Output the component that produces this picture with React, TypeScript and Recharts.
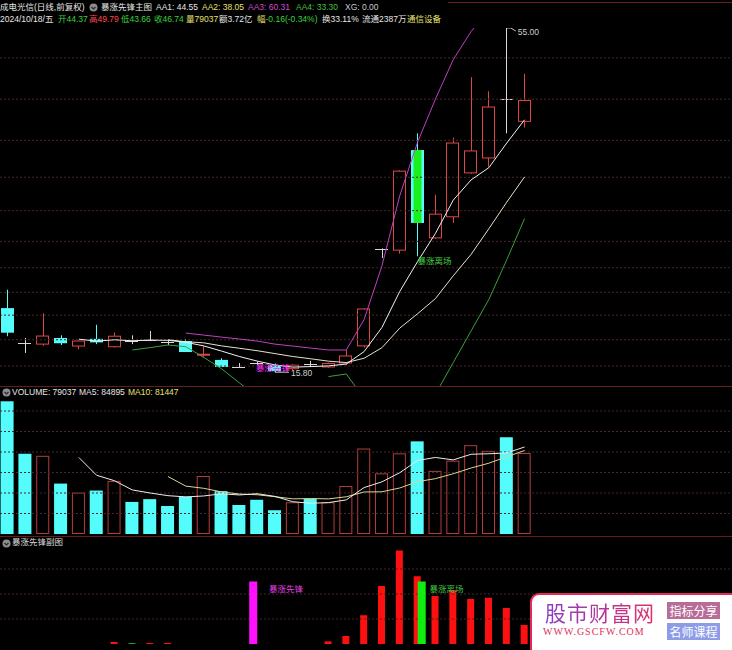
import React from 'react';
import { ComposedChart, Bar, Line, XAxis, YAxis, ReferenceLine, ReferenceDot } from 'recharts';

// 成电光信 daily candles, 30 sessions up to 2024/10/18
const openP = [23.1, 19.12, 19.0, 19.7, 18.78, 19.6, 18.7, 19.35, 19.45, 19.2, 19.35, 17.8, 17.2, 16.4, 16.8, 16.6, 16.2, 16.7, 16.4, 16.85, 18.8, 29.85, 29.7, 41.1, 31.1, 33.5, 38.5, 40.2, 46.9, 44.37];
const highP = [25.2, 19.7, 22.5, 20.0, 19.4, 21.2, 20.3, 20.0, 20.5, 19.4, 19.6, 18.8, 17.4, 16.85, 17.0, 16.8, 16.7, 17.1, 16.9, 18.3, 23.1, 29.9, 38.8, 43.0, 36.0, 42.5, 49.4, 47.8, 55.0, 49.79];
const lowP = [19.9, 18.0, 18.8, 18.9, 18.4, 19.0, 18.6, 19.0, 19.4, 18.9, 18.1, 17.5, 16.4, 16.4, 16.6, 15.8, 16.0, 16.4, 16.3, 16.6, 18.6, 28.8, 29.3, 29.0, 31.0, 32.8, 38.4, 39.2, 43.0, 43.66];
const closeP = [20.3, 19.12, 19.92, 19.1, 19.35, 19.2, 19.9, 19.35, 19.45, 19.2, 18.1, 17.85, 16.4, 16.4, 16.8, 15.95, 16.6, 16.7, 16.8, 17.65, 23.0, 29.85, 38.7, 32.8, 33.8, 41.9, 41.0, 46.0, 46.9, 46.74];

// main-chart indicator lines AA1..AA4
const aa1 = [null, null, null, null, 19.56, 19.34, 19.49, 19.38, 19.46, 19.43, 19.21, 18.8, 18.21, 17.59, 17.07, 16.63, 16.38, 16.44, 16.52, 16.73, 18.15, 20.9, 25.0, 28.4, 31.6, 35.4, 37.7, 39.1, 41.9, 44.55];
const aa2 = [null, null, null, null, null, null, null, null, null, 19.49, 19.27, 19.15, 18.8, 18.53, 18.25, 17.92, 17.59, 17.33, 17.06, 16.9, 17.39, 18.59, 20.82, 22.46, 24.18, 26.78, 29.22, 32.15, 35.16, 38.05];
const aa3 = [null, null, null, null, null, null, null, null, null, null, 20.26, 20.03, 19.8, 19.58, 19.35, 19.0, 18.78, 18.55, 18.33, 18.33, 21.8, 27.9, 35.9, 42.0, 46.9, 51.4, 54.6, 57.0, 58.8, 60.31];
const aa4 = [null, null, null, null, null, null, null, 18.33, 18.6, 18.9, 18.7, 17.5, 16.2, 14.6, 13.0, null, null, null, 15.3, 15.6, 12.8, 11.0, 10.5, 11.5, 13.3, 16.9, 20.5, 24.1, 28.6, 33.3];
const priceGrid = [51.6, 46.9, 42.2, 38.0, 34.2, 30.7, 27.7, 24.9, 22.3, 19.5, 16.5];

// volume pane
const volume = [129500, 78300, 76300, 49200, 40400, 42400, 51800, 31300, 34000, 27300, 36400, 56600, 41800, 28300, 33400, 23200, 31000, 34300, 31000, 46800, 83400, 59200, 78700, 90400, 61600, 71600, 86700, 81100, 94400, 79037];
const volUp = [0, 0, 1, 0, 1, 0, 1, 0, 0, 0, 0, 1, 0, 0, 0, 0, 1, 0, 1, 1, 1, 1, 1, 0, 1, 1, 1, 1, 0, 1];
const volMa5 = [null, null, null, null, 74700, 57300, 52000, 43000, 40000, 37400, 36200, 37100, 39200, 38100, 39300, 36700, 31500, 30000, 30600, 33300, 45300, 50900, 59800, 71700, 74700, 72300, 77800, 78300, 79100, 84895];
const volMa10 = [null, null, null, null, null, null, null, null, null, 56100, 46700, 44600, 41100, 39000, 38300, 36400, 34300, 34600, 34300, 36300, 41000, 41200, 44900, 51100, 54000, 58800, 64400, 69100, 75400, 81447];
const volGrid = [20000, 40000, 60000, 80000, 100000, 120000];

// sub pane 暴涨先锋副图
const subBar = [0, 0, 0, 0, 0, 0, 1.6, 0.8, 0.8, 0.8, 0, 0, 0, 0, 0, 0, 0, 0, 2.1, 6.4, 23, 46.4, 74.8, 54.2, 38.4, 43.2, 36, 37, 28.8, 15.2];
const subFall = [0, 0, 0, 0, 0, 0, 0, 1, 0, 0, 0, 0, 0, 0, 0, 0, 0, 0, 0, 0, 0, 0, 0, 0, 0, 0, 0, 0, 0, 0];
const pioneer = [null, null, null, null, null, null, null, null, null, null, null, null, null, null, 50, null, null, null, null, null, null, null, null, null, null, null, null, null, null, null];
const exitSig = [null, null, null, null, null, null, null, null, null, null, null, null, null, null, null, null, null, null, null, null, null, null, null, 50, null, null, null, null, null, null];
const subGrid = [20, 40, 60];

const W = 732;
const SLOT = 17.83;
const X_DOMAIN = [-7.5 / SLOT, (W - 7.5) / SLOT];
const RED = '#e04646';
const CYAN = '#54fcfc';
const GRID = '#4a2626';
const FONT = '"Liberation Sans", "Noto Sans CJK SC", sans-serif';
const FS = 8.5;
const M = { top: 0, right: 0, bottom: 0, left: 0 };

const rows = openP.map((o, i) => ({
  i,
  open: o,
  high: highP[i],
  low: lowP[i],
  close: closeP[i],
  range: [lowP[i], highP[i]],
  aa1: aa1[i],
  aa2: aa2[i],
  aa3: aa3[i],
  aa4: aa4[i],
  vol: volume[i],
  up: volUp[i] === 1,
  vma5: volMa5[i],
  vma10: volMa10[i],
  sub: subBar[i],
  fall: subFall[i] === 1,
  pioneer: pioneer[i],
  exit: exitSig[i],
}));

const Candle = (props: any) => {
  const { x, y, width, height, payload } = props;
  if (!payload) return null;
  const { open, close, high, low, exit } = payload;
  const top = Math.min(y, y + height);
  const h = Math.abs(height);
  const k = high > low ? h / (high - low) : 0;
  const py = (p: number) => top + (high - p) * k;
  const cx = Math.round(x + width / 2) + 0.5;
  const yo = py(open);
  const yc = py(close);
  const bx = Math.round(x) + 0.5;
  const bw = Math.round(width) - 1;
  if (close > open) {
    const bh = Math.max(yo - yc, 1);
    return (
      <g>
        <line x1={cx} x2={cx} y1={top} y2={yc} stroke={RED} />
        <line x1={cx} x2={cx} y1={yc + bh} y2={top + h} stroke={RED} />
        <rect x={bx} y={yc} width={bw} height={bh} fill="#000" stroke={RED} />
      </g>
    );
  }
  if (close < open) {
    return (
      <g>
        <line x1={cx} x2={cx} y1={top} y2={top + h} stroke={CYAN} />
        <rect x={bx - 0.5} y={yo} width={bw + 1} height={Math.max(yc - yo, 1)} fill={CYAN} />
        {exit != null && (
          <rect x={bx + 2} y={yo} width={bw - 4} height={Math.max(yc - yo, 1)} fill="#1cf01c" />
        )}
      </g>
    );
  }
  return (
    <g>
      <line x1={cx} x2={cx} y1={top} y2={top + h} stroke="#d8d8d8" />
      <line x1={bx - 0.5} x2={bx + bw + 0.5} y1={Math.round(yo) + 0.5} y2={Math.round(yo) + 0.5} stroke="#d8d8d8" />
    </g>
  );
};

const VolBar = (props: any) => {
  const { x, y, width, height, payload } = props;
  if (!payload || height <= 0) return null;
  if (payload.up) {
    return <rect x={x + 0.5} y={y + 0.5} width={width - 1} height={height - 1} fill="#000" stroke="#b43c3c" />;
  }
  return <rect x={x} y={y} width={width} height={height} fill={CYAN} />;
};

const SubBar = (props: any) => {
  const { x, y, width, height, payload } = props;
  if (!payload || height <= 0) return null;
  return <rect x={x} y={y} width={width} height={Math.max(height, 1)} fill={payload.fall ? '#1ca01c' : '#ff1010'} />;
};

const MarkText = (props: any) => {
  const { viewBox, text, color, dx = 0, dy = 8 } = props;
  if (!viewBox) return null;
  const cx = viewBox.x + viewBox.width / 2;
  const cy = viewBox.y + viewBox.height / 2;
  return (
    <text x={cx + dx} y={cy + dy} fill={color} fontSize={FS} fontFamily={FONT}>
      {text}
    </text>
  );
};

const HighMark = (props: any) => {
  const { viewBox, text } = props;
  if (!viewBox) return null;
  const cx = viewBox.x + viewBox.width / 2;
  const cy = viewBox.y + viewBox.height / 2;
  return (
    <g>
      <polyline points={`${cx},${cy} ${cx + 4},${cy} ${cx + 9},${cy + 3}`} fill="none" stroke="#c8c8c8" />
      <text x={cx + 11} y={cy + 7} fill="#cfcfcf" fontSize={FS} fontFamily={FONT}>{text}</text>
    </g>
  );
};

const LowMark = (props: any) => {
  const { viewBox, text } = props;
  if (!viewBox) return null;
  const cx = viewBox.x + viewBox.width / 2;
  const cy = viewBox.y + viewBox.height / 2;
  return (
    <g>
      <line x1={cx} x2={cx + 14} y1={cy} y2={cy} stroke="#c8c8c8" />
      <text x={cx + 16} y={cy + 3.5} fill="#cfcfcf" fontSize={FS} fontFamily={FONT}>{text}</text>
    </g>
  );
};

const Icon = ({ x, y }: { x: number; y: number }) => (
  <svg style={{ position: 'absolute', left: x, top: y }} width={9} height={9}>
    <circle cx={4.5} cy={4.5} r={4} fill="#8c8c8c" />
    <polyline points="2.5,4 4.5,6 6.5,4" fill="none" stroke="#2a2a2a" strokeWidth={1.2} />
  </svg>
);

const T = ({ x, y, c, children }: any) => (
  <div style={{ position: 'absolute', left: x, top: y, color: c, fontSize: FS, lineHeight: '11px', whiteSpace: 'nowrap' }}>
    {children}
  </div>
);

const HLine = ({ y, x = 0 }: { y: number; x?: number }) => (
  <div style={{ position: 'absolute', left: x, top: y, width: W - x, height: 1, background: '#661c1c' }} />
);

export default function App() {
  const xAxis = <XAxis type="number" dataKey="i" domain={X_DOMAIN} hide allowDataOverflow />;
  return (
    <div style={{ position: 'absolute', left: 0, top: 0, width: W, height: 650, background: '#000', overflow: 'hidden', fontFamily: FONT }}>
      <HLine y={2} x={448} />
      <HLine y={386} />
      <HLine y={536} />

      {/* header */}
      <T x={0} y={2} c="#e6e6e6">成电光信(日线,前复权)</T>
      <Icon x={89} y={3} />
      <T x={101} y={2} c="#e6e6e6">暴涨先锋主图</T>
      <T x={156} y={2} c="#e6e6e6">AA1: 44.55</T>
      <T x={202} y={2} c="#e8e070">AA2: 38.05</T>
      <T x={248} y={2} c="#d048d0">AA3: 60.31</T>
      <T x={296} y={2} c="#40c040">AA4: 33.30</T>
      <T x={345} y={2} c="#c8c8c8">XG: 0.00</T>

      <T x={0} y={13.5} c="#e6e6e6">2024/10/18/五</T>
      <T x={58} y={13.5} c="#3cd23c">开44.37</T>
      <T x={89} y={13.5} c="#ff4a4a">高49.79</T>
      <T x={121} y={13.5} c="#3cd23c">低43.66</T>
      <T x={154} y={13.5} c="#3cd23c">收46.74</T>
      <T x={186} y={13.5} c="#e8e070">量79037</T>
      <T x={219} y={13.5} c="#e6e6e6">额3.72亿</T>
      <T x={257} y={13.5} c="#3cd23c"><span style={{ color: '#e8e070' }}>幅</span>-0.16(-0.34%)</T>
      <T x={322} y={13.5} c="#e6e6e6">换33.11%</T>
      <T x={362} y={13.5} c="#e6e6e6">流通2387万</T>
      <T x={407} y={13.5} c="#e8e070">通信设备</T>

      {/* main price pane */}
      <div style={{ position: 'absolute', left: 0, top: 28 }}>
        <ComposedChart width={W} height={358} data={rows} margin={M}>
          {xAxis}
          <YAxis type="number" domain={[14.23, 55]} hide allowDataOverflow />
          {priceGrid.map((p) => (
            <ReferenceLine key={p} y={p} stroke={GRID} strokeDasharray="2 2" />
          ))}
          <Bar dataKey="range" barSize={13} shape={<Candle />} isAnimationActive={false} />
          <Line dataKey="aa4" stroke="#3aa03a" dot={false} isAnimationActive={false} />
          <Line dataKey="aa3" stroke="#c040c0" dot={false} isAnimationActive={false} />
          <Line dataKey="aa2" stroke="#e6e2c8" dot={false} isAnimationActive={false} />
          <Line dataKey="aa1" stroke="#f2f2f2" dot={false} isAnimationActive={false} />
          <ReferenceDot x={14} y={lowP[14]} r={1} fill="none" stroke="none" ifOverflow="visible"
            label={<MarkText text="暴涨先锋" color="#ff30ff" dx={-1} dy={6} />} />
          <ReferenceDot x={23} y={lowP[23]} r={1} fill="none" stroke="none" ifOverflow="visible"
            label={<MarkText text="暴涨离场" color="#40d040" dy={8} />} />
          <ReferenceDot x={28} y={highP[28]} r={1} fill="none" stroke="none" ifOverflow="visible"
            label={<HighMark text="55.00" />} />
          <ReferenceDot x={15} y={lowP[15]} r={1} fill="none" stroke="none" ifOverflow="visible"
            label={<LowMark text="15.80" />} />
        </ComposedChart>
      </div>

      {/* volume pane */}
      <Icon x={2} y={388} />
      <T x={12} y={386.5} c="#e6e6e6">VOLUME: 79037</T>
      <T x={79} y={386.5} c="#e6e6e6">MA5: 84895</T>
      <T x={128} y={386.5} c="#e8e070">MA10: 81447</T>
      <div style={{ position: 'absolute', left: 0, top: 398 }}>
        <ComposedChart width={W} height={136} data={rows} margin={M}>
          {xAxis}
          <YAxis type="number" domain={[0, 132700]} hide allowDataOverflow />
          {volGrid.map((v) => (
            <ReferenceLine key={v} y={v} stroke={GRID} strokeDasharray="2 2" />
          ))}
          <Bar dataKey="vol" barSize={13} shape={<VolBar />} isAnimationActive={false} />
          <Line dataKey="vma10" stroke="#d8d890" dot={false} isAnimationActive={false} />
          <Line dataKey="vma5" stroke="#ececec" dot={false} isAnimationActive={false} />
        </ComposedChart>
      </div>

      {/* sub pane */}
      <Icon x={2} y={539} />
      <T x={12} y={537} c="#d8d8d8">暴涨先锋副图</T>
      <div style={{ position: 'absolute', left: 0, top: 544 }}>
        <ComposedChart width={W} height={100} data={rows} margin={M}>
          {xAxis}
          <YAxis type="number" domain={[0, 80]} hide allowDataOverflow />
          {subGrid.map((v) => (
            <ReferenceLine key={v} y={v} stroke={GRID} strokeDasharray="2 2" />
          ))}
          <Bar dataKey="sub" barSize={7} shape={<SubBar />} isAnimationActive={false} />
        </ComposedChart>
      </div>
      <div style={{ position: 'absolute', left: 0, top: 544 }}>
        <ComposedChart width={W} height={100} data={rows} margin={M}>
          {xAxis}
          <YAxis type="number" domain={[0, 80]} hide allowDataOverflow />
          <Bar dataKey="pioneer" barSize={12} fill="#ff10ff" isAnimationActive={false} />
          <Bar dataKey="exit" barSize={12} fill="#10ee10" isAnimationActive={false} />
          <ReferenceDot x={14} y={50} r={1} fill="none" stroke="none" ifOverflow="visible"
            label={<MarkText text="暴涨先锋" color="#e040e0" dx={12} dy={10} />} />
          <ReferenceDot x={23} y={50} r={1} fill="none" stroke="none" ifOverflow="visible"
            label={<MarkText text="暴涨离场" color="#40c040" dx={12} dy={10} />} />
        </ComposedChart>
      </div>

      {/* site badge */}
      <div style={{ position: 'absolute', left: 530, top: 593, width: 215, height: 64, boxSizing: 'border-box', border: '2px solid #e8285a', borderRadius: 9, background: '#fff' }} />
      <div style={{ position: 'absolute', left: 545, top: 599, fontSize: 21, lineHeight: '26px', fontFamily: '"Noto Sans CJK SC", sans-serif', background: 'linear-gradient(90deg, #8a3cc8, #e0306a)', WebkitBackgroundClip: 'text', backgroundClip: 'text', color: 'transparent', letterSpacing: 1 }}>
        股市财富网
      </div>
      <div style={{ position: 'absolute', left: 543, top: 626, fontSize: 10, lineHeight: '12px', fontFamily: '"Liberation Serif", serif', color: '#e0305a', letterSpacing: 1 }}>
        WWW.GSCFW.COM
      </div>
      <div style={{ position: 'absolute', left: 667, top: 602, width: 53, height: 17, background: '#b86c98', color: '#fff', fontSize: 12, lineHeight: '17px', textAlign: 'center', fontFamily: '"Noto Sans CJK SC", sans-serif' }}>
        指标分享
      </div>
      <div style={{ position: 'absolute', left: 667, top: 623, width: 53, height: 17, background: '#8e9ce8', color: '#fff', fontSize: 12, lineHeight: '17px', textAlign: 'center', fontFamily: '"Noto Sans CJK SC", sans-serif' }}>
        名师课程
      </div>
    </div>
  );
}
